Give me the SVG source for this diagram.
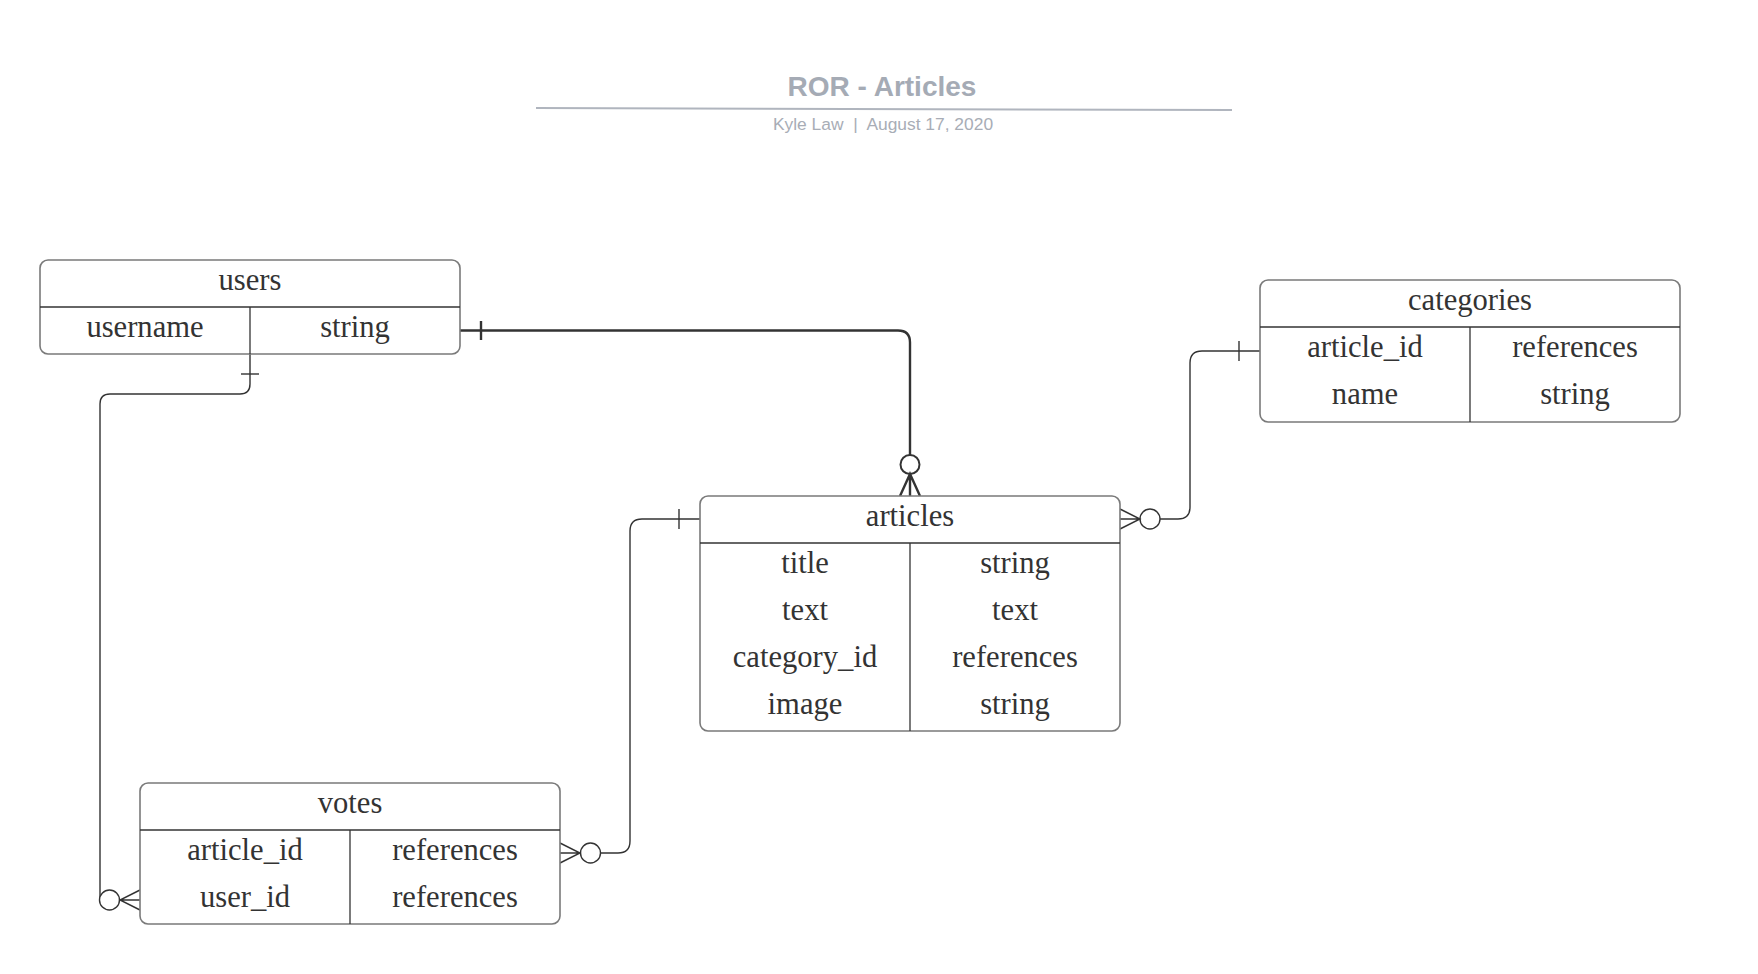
<svg xmlns="http://www.w3.org/2000/svg" width="1758" height="974" viewBox="0 0 1758 974">
<style>
.box{fill:#ffffff;stroke:#7a7a7a;stroke-width:1.6}
.div{stroke:#333333;stroke-width:1.3;fill:none}
.t{font-family:"Liberation Serif","DejaVu Serif",serif;font-size:30.6px;fill:#333333;text-anchor:middle}
.c{fill:none;stroke:#333333;stroke-width:1.4}
.cb{fill:none;stroke:#333333;stroke-width:2.4}
.o{fill:#ffffff;stroke:#333333;stroke-width:1.4}
.ob{fill:#ffffff;stroke:#333333;stroke-width:2}
.title{font-family:"Liberation Sans",Arial,sans-serif;font-size:28px;font-weight:bold;fill:#a5abb5;text-anchor:middle}
.sub{font-family:"Liberation Sans",Arial,sans-serif;font-size:17.4px;fill:#a8adb6;text-anchor:middle}
</style>
<rect width="1758" height="974" fill="#ffffff"/>
<g id="header">
<text class="title" x="882" y="96">ROR - Articles</text>
<line x1="536" y1="108" x2="1232" y2="110" stroke="#b0b5be" stroke-width="2"/>
<text class="sub" x="883" y="130" xml:space="preserve">Kyle Law  |  August 17, 2020</text>
</g>
<g id="connectors">
<!-- users -> articles -->
<path class="cb" d="M460 330.5 H898 Q910 330.5 910 342.5 V455"/>
<line class="cb" x1="481" y1="321" x2="481" y2="340"/>
<circle class="ob" cx="910" cy="464.5" r="9.5"/>
<path class="cb" d="M900 496 L910 474 L920 496 M910 474 V496"/>
<!-- users -> votes -->
<path class="c" d="M250 354 V384 Q250 394 240 394 H110 Q100 394 100 404 V900"/>
<line class="c" x1="241" y1="374" x2="259" y2="374"/>
<circle class="o" cx="109.5" cy="900" r="10"/>
<path class="c" d="M140 890 L120 900 L140 910 M120 900 H140"/>
<!-- categories -> articles -->
<path class="c" d="M1260 351 H1202 Q1190 351 1190 363 V507 Q1190 519 1178 519 H1160"/>
<line class="c" x1="1239" y1="341" x2="1239" y2="361"/>
<circle class="o" cx="1150" cy="519" r="10"/>
<path class="c" d="M1120 509 L1140 519 L1120 529 M1140 519 H1120"/>
<!-- articles -> votes -->
<path class="c" d="M700 519 H642 Q630 519 630 531 V841 Q630 853 618 853 H600"/>
<line class="c" x1="679" y1="509" x2="679" y2="529"/>
<circle class="o" cx="590.5" cy="853" r="10"/>
<path class="c" d="M560 843 L580 853 L560 863 M580 853 H560"/>
</g>
<g id="users">
<rect class="box" x="40" y="260" width="420" height="94" rx="8"/>
<line class="div" x1="40" y1="307" x2="460" y2="307"/>
<line class="div" x1="250" y1="307" x2="250" y2="354"/>
<text class="t" x="250" y="290">users</text>
<text class="t" x="145" y="337">username</text>
<text class="t" x="355" y="337">string</text>
</g>
<g id="categories">
<rect class="box" x="1260" y="280" width="420" height="142" rx="8"/>
<line class="div" x1="1260" y1="327" x2="1680" y2="327"/>
<line class="div" x1="1470" y1="327" x2="1470" y2="422"/>
<text class="t" x="1470" y="310">categories</text>
<text class="t" x="1365" y="357">article_id</text>
<text class="t" x="1575" y="357">references</text>
<text class="t" x="1365" y="404">name</text>
<text class="t" x="1575" y="404">string</text>
</g>
<g id="articles">
<rect class="box" x="700" y="496" width="420" height="235" rx="8"/>
<line class="div" x1="700" y1="543" x2="1120" y2="543"/>
<line class="div" x1="910" y1="543" x2="910" y2="731"/>
<text class="t" x="910" y="526">articles</text>
<text class="t" x="805" y="573">title</text>
<text class="t" x="1015" y="573">string</text>
<text class="t" x="805" y="620">text</text>
<text class="t" x="1015" y="620">text</text>
<text class="t" x="805" y="667">category_id</text>
<text class="t" x="1015" y="667">references</text>
<text class="t" x="805" y="714">image</text>
<text class="t" x="1015" y="714">string</text>
</g>
<g id="votes">
<rect class="box" x="140" y="783" width="420" height="141" rx="8"/>
<line class="div" x1="140" y1="830" x2="560" y2="830"/>
<line class="div" x1="350" y1="830" x2="350" y2="924"/>
<text class="t" x="350" y="813">votes</text>
<text class="t" x="245" y="860">article_id</text>
<text class="t" x="455" y="860">references</text>
<text class="t" x="245" y="907">user_id</text>
<text class="t" x="455" y="907">references</text>
</g>
</svg>
